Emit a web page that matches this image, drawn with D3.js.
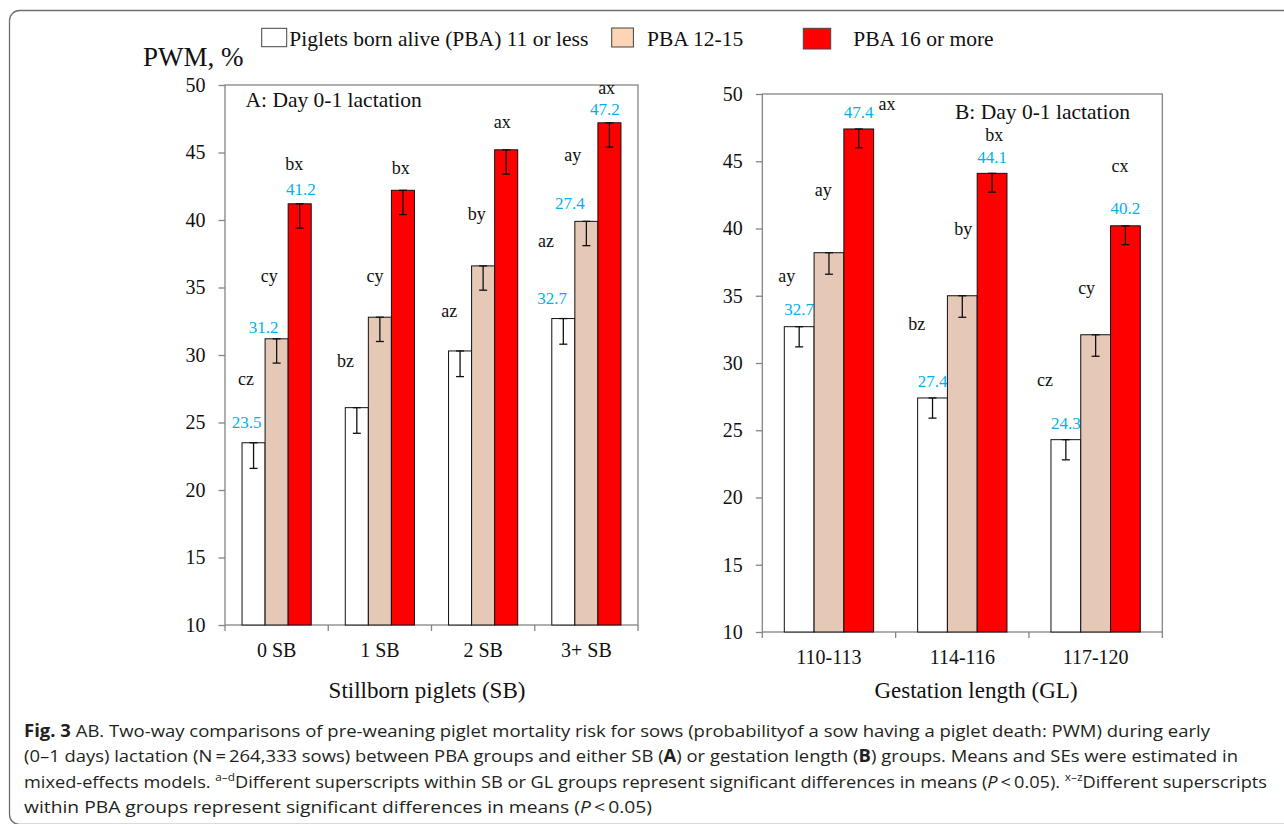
<!DOCTYPE html>
<html>
<head>
<meta charset="utf-8">
<script src="https://cdn.jsdelivr.net/npm/d3@7"></script>
<style>
  body { margin: 0; background: #fff; }
  svg text { font-family: "Liberation Serif", "Times New Roman", serif; fill: #111; }
  svg .cap text { font-family: "Open Sans", sans-serif; fill: #231f20; }
</style>
</head>
<body>
<svg id="fig" width="1284" height="824"></svg>
<script>
const series = ["Piglets born alive (PBA) 11 or less", "PBA 12-15", "PBA 16 or more"];
const barColors = ["#ffffff", "#e5c8b6", "#ff0000"];
const legendColors = ["#ffffff", "#fcd5b4", "#ff0000"];
const yTicks = [10, 15, 20, 25, 30, 35, 40, 45, 50];

// panel A: stillborn groups
const sbGroups = ["0 SB", "1 SB", "2 SB", "3+ SB"];
const sbMeans = [[23.5, 26.1, 30.3, 32.7], [31.2, 32.8, 36.6, 39.9], [41.2, 42.2, 45.2, 47.2]];
const sbSE = [[1.9, 1.9, 1.9, 1.9], [1.8, 1.8, 1.8, 1.8], [1.8, 1.8, 1.8, 1.8]];
const sbLetters = [["cz", "bz", "az", "az"], ["cy", "cy", "by", "ay"], ["bx", "bx", "ax", "ax"]];
const sbValueText = [["23.5", null, null, "32.7"], ["31.2", null, null, "27.4"], ["41.2", null, null, "47.2"]];

// panel B: gestation length groups
const glGroups = ["110-113", "114-116", "117-120"];
const glMeans = [[32.7, 27.4, 24.3], [38.2, 35.0, 32.1], [47.4, 44.1, 40.2]];
const glSE = [[1.5, 1.5, 1.5], [1.6, 1.6, 1.6], [1.4, 1.4, 1.4]];
const glLetters = [["ay", "bz", "cz"], ["ay", "by", "cy"], ["ax", "bx", "cx"]];
const glValueText = [["32.7", "27.4", "24.3"], [null, null, null], ["47.4", "44.1", "40.2"]];

// hand placed annotations: [dx from bar centre (px), height in axis units]
const sbLetterPos = [
  [[-7.6, 27.8], [-11.2, 29.1], [-10.8, 32.8], [-17.4, 38.0]],
  [[-7.3, 35.4], [-4.9, 35.4], [-6.5, 40.0], [-13.7, 44.4]],
  [[-5.4, 43.7], [-2.3, 43.4], [-3.9, 46.8], [-2.8, 49.3]]];
const sbValuePos = [
  [[-7, 24.6], null, null, [-11.1, 33.8]],
  [[-13, 31.6], null, null, [-16.4, 40.8]],
  [[1.3, 41.85], null, null, [-4.5, 47.8]]];
const glLetterPos = [
  [[-12.5, 36.0], [-15.8, 32.45], [-20.9, 28.3]],
  [[-5.7, 42.4], [1, 39.5], [-9, 35.1]],
  [[28.2, 48.8], [2.2, 46.5], [-5.5, 44.2]]];
const glValuePos = [
  [[0, 33.6], [0, 28.2], [0, 25.1]],
  [null, null, null],
  [[0, 48.2], [0, 44.9], [0, 41.1]]];

const captionLines = [
  [["Fig. 3", "b"], ["  AB. Two-way comparisons of pre-weaning piglet mortality risk for sows (probabilityof a sow having a piglet death: PWM) during early", ""]],
  [["(0\u20131 days) lactation (N\u2009=\u2009264,333 sows) between PBA groups and either SB (", ""], ["A", "b"], [") or gestation length (", ""], ["B", "b"], [") groups. Means and SEs were estimated in", ""]],
  [["mixed-effects models. ", ""], ["a\u2013d", "sup"], ["Different superscripts within SB or GL groups represent significant differences in means (", ""], ["P", "i"], ["\u2009<\u20090.05). ", ""], ["x\u2013z", "sup"], ["Different superscripts", ""]],
  [["within PBA groups represent significant differences in means (", ""], ["P", "i"], ["\u2009<\u20090.05)", ""]]
];
const captionWidths = [1186, 1214, 1243, 628];

const svg = d3.select("#fig");

// card outline
svg.append("rect")
  .attr("x", 9.5).attr("y", 10.5).attr("width", 1300).attr("height", 814)
  .attr("rx", 10).attr("fill", "none").attr("stroke", "#6e6e6e").attr("stroke-width", 1.3);

function drawPanel(p) {
  const x0 = d3.scaleBand().domain(p.groups).range([p.left, p.right]);
  const bw = x0.bandwidth();
  const x1 = d3.scaleBand().domain(d3.range(series.length)).range([bw * 0.165, bw * 0.835]);
  const y = d3.scaleLinear().domain([10, 50]).range([p.bottom, p.top]);
  const g = svg.append("g");

  g.append("rect")
    .attr("x", p.left).attr("y", p.top)
    .attr("width", p.right - p.left).attr("height", p.bottom - p.top)
    .attr("fill", "none").attr("stroke", "#858585").attr("stroke-width", 1.3);

  const ya = g.append("g")
    .attr("transform", `translate(${p.left},0)`)
    .call(d3.axisLeft(y).tickValues(yTicks).tickSize(6.5).tickPadding(13));
  ya.select(".domain").remove();
  ya.selectAll("line").attr("stroke", "#858585").attr("stroke-width", 1.3);
  ya.selectAll("text").attr("font-size", 20);

  // ticks between categories
  const edges = p.groups.map(d => x0(d)).concat([p.right]);
  g.selectAll(".xt").data(edges).join("line")
    .attr("x1", d => d).attr("x2", d => d)
    .attr("y1", p.bottom).attr("y2", p.bottom + 6)
    .attr("stroke", "#858585").attr("stroke-width", 1.3);

  g.selectAll(".xl").data(p.groups).join("text")
    .attr("x", d => x0(d) + bw / 2).attr("y", p.bottom + 31.5)
    .attr("text-anchor", "middle").attr("font-size", 20)
    .text(d => d);

  series.forEach((s, i) => {
    const rows = p.groups.map((grp, j) => ({
      grp, j, v: p.means[i][j], se: p.se[i][j],
      cx: x0(grp) + x1(i) + x1.bandwidth() / 2
    }));

    g.selectAll(null).data(rows).join("rect")
      .attr("x", d => x0(d.grp) + x1(i))
      .attr("y", d => y(d.v))
      .attr("width", x1.bandwidth())
      .attr("height", d => y(10) - y(d.v))
      .attr("fill", barColors[i]).attr("stroke", "#111").attr("stroke-width", 1);

    const eb = g.selectAll(null).data(rows).join("g").attr("stroke", "#111").attr("stroke-width", 1.3);
    eb.append("line").attr("x1", d => d.cx).attr("x2", d => d.cx)
      .attr("y1", d => y(d.v)).attr("y2", d => y(d.v - d.se));
    eb.append("line").attr("x1", d => d.cx - 4).attr("x2", d => d.cx + 4)
      .attr("y1", d => y(d.v - d.se)).attr("y2", d => y(d.v - d.se));
    eb.append("line").attr("x1", d => d.cx - 4).attr("x2", d => d.cx + 4)
      .attr("y1", d => y(d.v)).attr("y2", d => y(d.v));

    g.selectAll(null).data(rows).join("text")
      .attr("x", d => d.cx + p.letterPos[i][d.j][0])
      .attr("y", d => y(p.letterPos[i][d.j][1]))
      .attr("text-anchor", "middle").attr("font-size", 18)
      .text(d => p.letters[i][d.j]);

    g.selectAll(null).data(rows.filter(d => p.valueText[i][d.j])).join("text")
      .attr("x", d => d.cx + p.valuePos[i][d.j][0])
      .attr("y", d => y(p.valuePos[i][d.j][1]))
      .attr("text-anchor", "middle").attr("font-size", 17)
      .style("fill", "#00b0f0")
      .text(d => p.valueText[i][d.j]);
  });

  g.append("text").attr("x", p.titleX).attr("y", p.titleY)
    .attr("font-size", 21.5).text(p.title);

  g.append("text").attr("x", p.axisTitleX).attr("y", 698)
    .attr("text-anchor", "middle").attr("font-size", 23).text(p.axisTitle);
}

drawPanel({
  groups: sbGroups, means: sbMeans, se: sbSE, letters: sbLetters, valueText: sbValueText,
  letterPos: sbLetterPos, valuePos: sbValuePos,
  left: 225, right: 638, top: 85, bottom: 625,
  title: "A: Day 0-1 lactation", titleX: 245.5, titleY: 106.5,
  axisTitle: "Stillborn piglets (SB)", axisTitleX: 427
});

drawPanel({
  groups: glGroups, means: glMeans, se: glSE, letters: glLetters, valueText: glValueText,
  letterPos: glLetterPos, valuePos: glValuePos,
  left: 762.3, right: 1162.3, top: 94, bottom: 632,
  title: "B: Day 0-1 lactation", titleX: 955, titleY: 119,
  axisTitle: "Gestation length (GL)", axisTitleX: 976
});

// y axis title
svg.append("text").attr("x", 143).attr("y", 66).attr("font-size", 27).text("PWM, %");

// legend
const legendBox = [[261.7, 28.3, 25, 18.4], [611.7, 28, 21.7, 19], [803.3, 28.3, 27.4, 20.7]];
const legendTextX = [289.3, 647, 853.3];
const lg = svg.append("g");
series.forEach((s, i) => {
  const b = legendBox[i];
  lg.append("rect").attr("x", b[0]).attr("y", b[1]).attr("width", b[2]).attr("height", b[3])
    .attr("fill", legendColors[i]).attr("stroke", "#444").attr("stroke-width", 1);
  lg.append("text").attr("x", legendTextX[i]).attr("y", 45.5).attr("font-size", 21.5).text(s);
});

// caption
const cap = svg.append("g").attr("class", "cap");
captionLines.forEach((line, k) => {
  const t = cap.append("text")
    .attr("x", 24).attr("y", 736.5 + k * 25.5)
    .attr("font-size", 17)
    .attr("textLength", captionWidths[k]).attr("lengthAdjust", "spacingAndGlyphs");
  let raised = false;
  line.forEach(([txt, kind]) => {
    const ts = t.append("tspan").text(txt);
    if (kind === "b") ts.attr("font-weight", "bold");
    if (kind === "i") ts.attr("font-style", "italic");
    if (kind === "sup") { ts.attr("font-size", 11).attr("dy", -7); raised = true; }
    else if (raised) { ts.attr("dy", 7); raised = false; }
  });
});
</script>
</body>
</html>
